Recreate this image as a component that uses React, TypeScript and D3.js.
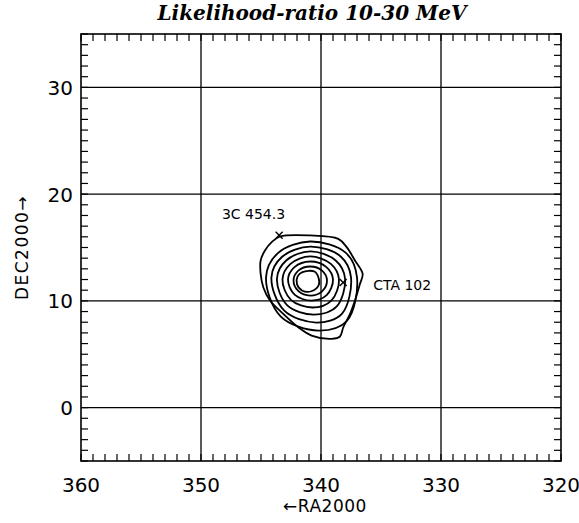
import React from 'react';
import * as d3 from 'd3';

// Sky map of the likelihood-ratio contours, 10–30 MeV band

const RA_TICKS = [360, 350, 340, 330, 320];
const DEC_TICKS = [0, 10, 20, 30];

const SOURCES = [
  { name: '3C 454.3', ra: 343.49, dec: 16.15 },
  { name: 'CTA 102', ra: 338.15, dec: 11.73 },
];

// contour levels, outermost first, as [RA, DEC] pairs
const CONTOUR_1: [number, number][] = [
  [343.42, 16.03], [340.92, 16.13], [338.56, 15.81], [337.86, 15.03], [337.17, 13.78],
  [336.53, 12.53], [336.75, 11.6], [337.17, 10.03], [337.58, 8.78], [338.14, 7.53],
  [338.42, 6.66], [339.11, 6.44], [340.78, 6.75], [341.89, 7.53], [343.14, 8.78],
  [344.25, 10.03], [344.81, 11.28], [345.03, 12.53], [345.03, 13.78], [344.67, 14.72],
  [344.11, 15.5],
];
const CONTOUR_2: [number, number][] = [
  [337.0, 12.2], [337.95, 14.52], [340.9, 15.56], [343.59, 14.48],
  [344.58, 12.2], [343.37, 8.55], [340.2, 7.22], [337.83, 8.14],
];
const CONTOUR_3: [number, number][] = [
  [337.5, 12.2], [338.36, 14.16], [340.9, 15.09], [343.24, 14.13],
  [344.13, 12.2], [343.08, 9.11], [340.4, 7.97], [338.26, 8.79],
];
const CONTOUR_4: [number, number][] = [
  [338.0, 12.1], [338.8, 13.81], [340.9, 14.63], [342.88, 13.81],
  [343.67, 12.1], [342.83, 9.61], [340.6, 8.72], [338.71, 9.46],
];
const CONTOUR_5: [number, number][] = [
  [338.5, 12.0], [339.18, 13.47], [340.9, 14.16], [342.54, 13.47],
  [343.21, 12.0], [342.51, 10.1], [340.7, 9.38], [339.14, 10.03],
];
const CONTOUR_6: [number, number][] = [
  [339.0, 12.0], [339.55, 13.16], [340.9, 13.69], [342.21, 13.16],
  [342.75, 12.0], [342.2, 10.58], [340.8, 10.03], [339.53, 10.54],
];
const CONTOUR_7: [number, number][] = [
  [339.5, 11.9], [339.91, 12.83], [340.9, 13.22], [341.89, 12.83],
  [342.29, 11.9], [341.88, 10.91], [340.9, 10.5], [339.91, 10.89],
];
const CONTOUR_8: [number, number][] = [
  [341.55, 12.7], [340.55, 12.75], [340.2, 12.15], [340.2, 11.45],
  [340.8, 10.9], [341.55, 10.95], [342.0, 11.55], [341.95, 12.3],
];
const CONTOURS = [CONTOUR_1, CONTOUR_2, CONTOUR_3, CONTOUR_4, CONTOUR_5, CONTOUR_6, CONTOUR_7, CONTOUR_8];

const W = 579;
const H = 523;
const M = { left: 81, right: 18, top: 34, bottom: 62 };

export default function App() {
  const x = d3.scaleLinear().domain([360, 320]).range([M.left, W - M.right]);
  const y = d3.scaleLinear().domain([-5, 35]).range([H - M.bottom, M.top]);
  const [x0, x1] = x.range();
  const [y0, y1] = y.range();

  const line = d3.line<[number, number]>()
    .x(d => x(d[0]))
    .y(d => y(d[1]))
    .curve(d3.curveCatmullRomClosed.alpha(0.5));

  const minorX = x.ticks(40);
  const minorY = y.ticks(40);
  const tl = 7;
  const sans = '"DejaVu Sans", sans-serif';

  return (
    <svg width={W} height={H} style={{ position: 'absolute', left: 0, top: 0, background: '#fff' }}>
      <text x={312} y={20} textAnchor="middle"
        style={{ fontFamily: '"DejaVu Serif", serif', fontWeight: 'bold', fontStyle: 'italic', fontSize: 20 }}>
        Likelihood-ratio 10-30 MeV
      </text>

      {/* grid */}
      {RA_TICKS.slice(1, -1).map(t => (
        <line key={'gx' + t} x1={x(t)} x2={x(t)} y1={y0} y2={y1} stroke="#000" strokeWidth={1.3} />
      ))}
      {DEC_TICKS.map(t => (
        <line key={'gy' + t} x1={x0} x2={x1} y1={y(t)} y2={y(t)} stroke="#000" strokeWidth={1.3} />
      ))}

      {/* minor ticks, all four sides, inward */}
      {minorX.map(t => (
        <g key={'tx' + t}>
          <line x1={x(t)} x2={x(t)} y1={y0} y2={y0 - tl} stroke="#000" strokeWidth={1.2} />
          <line x1={x(t)} x2={x(t)} y1={y1} y2={y1 + tl} stroke="#000" strokeWidth={1.2} />
        </g>
      ))}
      {minorY.map(t => (
        <g key={'ty' + t}>
          <line x1={x0} x2={x0 + tl} y1={y(t)} y2={y(t)} stroke="#000" strokeWidth={1.2} />
          <line x1={x1} x2={x1 - tl} y1={y(t)} y2={y(t)} stroke="#000" strokeWidth={1.2} />
        </g>
      ))}

      <rect x={x0} y={y1} width={x1 - x0} height={y0 - y1} fill="none" stroke="#000" strokeWidth={1.6} />

      {/* contours */}
      {CONTOURS.map((c, i) => (
        <path key={'c' + i} d={line(c) ?? ''} fill="none" stroke="#000" strokeWidth={1.8} />
      ))}

      {/* sources */}
      {SOURCES.map(s => {
        const px = x(s.ra);
        const py = y(s.dec);
        const r = 3.5;
        return (
          <g key={s.name}>
            <line x1={px - r} x2={px + r} y1={py - r} y2={py + r} stroke="#000" strokeWidth={1.4} />
            <line x1={px - r} x2={px + r} y1={py + r} y2={py - r} stroke="#000" strokeWidth={1.4} />
          </g>
        );
      })}
      <text x={x(SOURCES[0].ra) + 6} y={y(SOURCES[0].dec) - 16} textAnchor="end"
        style={{ fontFamily: sans, fontSize: 14 }}>{SOURCES[0].name}</text>
      <text x={x(SOURCES[1].ra) + 30} y={y(SOURCES[1].dec) + 8} textAnchor="start"
        style={{ fontFamily: sans, fontSize: 14 }}>{SOURCES[1].name}</text>

      {/* tick labels */}
      {RA_TICKS.map(t => (
        <text key={'lx' + t} x={x(t)} y={y0 + 31} textAnchor="middle"
          style={{ fontFamily: sans, fontSize: 20 }}>{t}</text>
      ))}
      {DEC_TICKS.map(t => (
        <text key={'ly' + t} x={x0 - 8} y={y(t) + 7.5} textAnchor="end"
          style={{ fontFamily: sans, fontSize: 20 }}>{t}</text>
      ))}

      <text x={(x0 + x1) / 2 + 4} y={H - 11} textAnchor="middle"
        style={{ fontFamily: sans, fontSize: 17, letterSpacing: 0.5 }}>←RA2000</text>
      <text transform={`translate(28,${(y0 + y1) / 2}) rotate(-90)`} textAnchor="middle"
        style={{ fontFamily: sans, fontSize: 17, letterSpacing: 1.5 }}>DEC2000→</text>
    </svg>
  );
}
